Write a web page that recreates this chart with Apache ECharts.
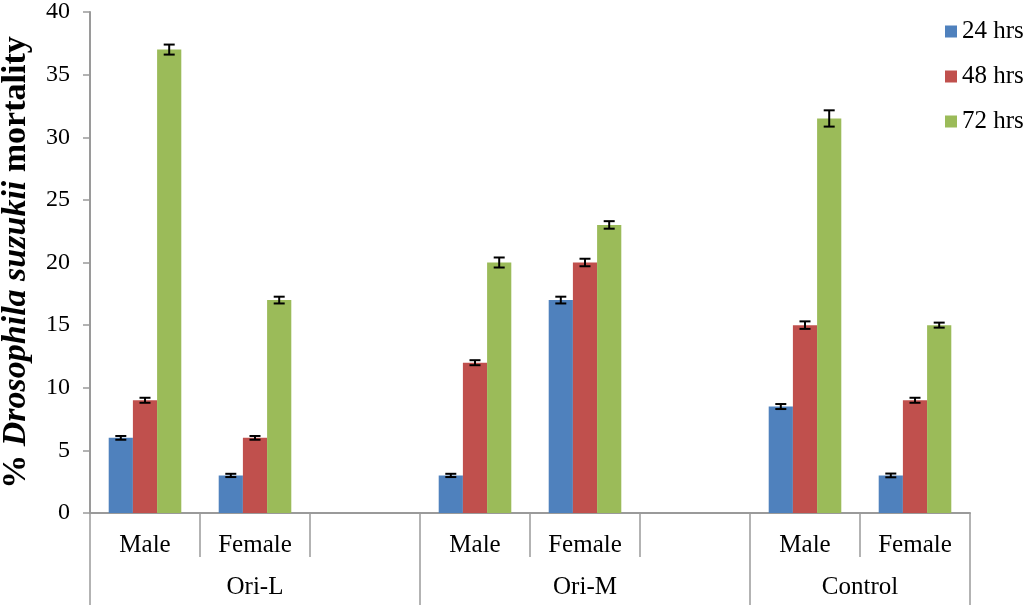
<!DOCTYPE html>
<html>
<head>
<meta charset="utf-8">
<script src="https://cdn.jsdelivr.net/npm/echarts@6/dist/echarts.min.js"></script>
<style>html,body{margin:0;padding:0;background:#fff}#c{width:1024px;height:608px}</style>
</head>
<body>
<div id="c"></div>
<script>
var categories = ['Male', 'Female', '', 'Male', 'Female', '', 'Male', 'Female'];
var groups = ['Ori-L', 'Ori-M', 'Control'];
var groupSpans = [3, 3, 2];
var seriesNames = ['24 hrs', '48 hrs', '72 hrs'];
var v24 = [6, 3, null, 3, 17, null, 8.5, 3];
var v48 = [9, 6, null, 12, 20, null, 15, 9];
var v72 = [37, 17, null, 20, 23, null, 31.5, 15];
var e24 = [0.15, 0.13, null, 0.13, 0.27, null, 0.2, 0.15];
var e48 = [0.2, 0.15, null, 0.2, 0.3, null, 0.3, 0.2];
var e72 = [0.4, 0.27, null, 0.4, 0.3, null, 0.65, 0.2];
var yTicks = [0, 5, 10, 15, 20, 25, 30, 35, 40];

var colors = ['#4F81BD', '#C0504D', '#9BBB59'];
var values = [v24, v48, v72];
var errors = [e24, e48, e72];
var font = 'Liberation Serif';
var axisColor = '#9a9a9a';
var gapFrac = 0.34;

var bounds = [0], centres = [];
var acc = 0;
for (var g = 0; g < groupSpans.length; g++) {
  centres.push(acc + groupSpans[g] / 2);
  acc += groupSpans[g];
  bounds.push(acc);
}
var allBounds = [];
for (var b = 0; b <= categories.length; b++) allBounds.push(b);

var series = [];
for (var s = 0; s < 3; s++) {
  series.push({
    name: seriesNames[s], type: 'bar', xAxisIndex: 0,
    data: values[s], barGap: '0%', barCategoryGap: (gapFrac * 100) + '%',
    itemStyle: { color: colors[s] }, silent: true
  });
}
for (var s2 = 0; s2 < 3; s2++) {
  (function (si) {
    var d = [];
    for (var i = 0; i < categories.length; i++) {
      if (values[si][i] != null) d.push([i, values[si][i], errors[si][i]]);
    }
    series.push({
      type: 'custom', xAxisIndex: 0, silent: true, z: 10,
      data: d,
      renderItem: function (params, api) {
        var idx = api.value(0), val = api.value(1), err = api.value(2);
        var band = api.size([1, 0])[0];
        var bw = band * (1 - gapFrac) / 3;
        var c = api.coord([idx, val]);
        var x = c[0] + (si - 1) * bw;
        var top = api.coord([idx, val + err])[1];
        var bot = api.coord([idx, val - err])[1];
        var hw = 5.5;
        var st = { stroke: '#000', lineWidth: 2 };
        return { type: 'group', children: [
          { type: 'line', shape: { x1: x, y1: top, x2: x, y2: bot }, style: st },
          { type: 'line', shape: { x1: x - hw, y1: top, x2: x + hw, y2: top }, style: st },
          { type: 'line', shape: { x1: x - hw, y1: bot, x2: x + hw, y2: bot }, style: st }
        ]};
      }
    });
  })(s2);
}

var chart = echarts.init(document.getElementById('c'));
chart.setOption({
  animation: false,
  textStyle: { fontFamily: font },
  legend: {
    data: seriesNames, orient: 'vertical', left: 940, top: 14,
    itemWidth: 12, itemHeight: 12, itemGap: 20, icon: 'rect',
    textStyle: { fontFamily: font, fontSize: 25, color: '#000' }
  },
  grid: { left: 90, right: 54, top: 12, bottom: 95, outerBoundsMode: 'none', containLabel: false },
  xAxis: [{
    type: 'category', data: categories,
    axisLine: { lineStyle: { color: axisColor, width: 2 } },
    axisTick: { show: false },
    axisLabel: { interval: 0, margin: 20, fontFamily: font, fontSize: 25, color: '#000' }
  }, {
    type: 'value', min: 0, max: categories.length, position: 'bottom',
    axisLine: { show: false }, splitLine: { show: false },
    axisTick: { show: true, customValues: allBounds, length: 44, lineStyle: { color: axisColor, width: 1.5 } },
    axisLabel: { show: false }
  }, {
    type: 'value', min: 0, max: categories.length, position: 'bottom',
    axisLine: { show: false }, splitLine: { show: false },
    axisTick: { show: true, customValues: bounds, length: 92, lineStyle: { color: axisColor, width: 1.5 } },
    axisLabel: {
      customValues: centres, margin: 62, fontFamily: font, fontSize: 25, color: '#000',
      formatter: function (v) { var k = centres.indexOf(v); return k >= 0 ? groups[k] : ''; }
    }
  }],
  yAxis: {
    type: 'value', min: yTicks[0], max: yTicks[yTicks.length - 1], interval: yTicks[1] - yTicks[0],
    name: '{b|% }{bi|Drosophila suzukii}{b| mortality}',
    nameLocation: 'middle', nameGap: 57,
    nameTextStyle: { rich: {
      b: { fontFamily: font, fontSize: 34, fontWeight: 'bold', color: '#000' },
      bi: { fontFamily: font, fontSize: 34, fontWeight: 'bold', fontStyle: 'italic', color: '#000' }
    } },
    axisLine: { show: true, lineStyle: { color: axisColor, width: 2 } },
    axisTick: { show: true, length: 7, lineStyle: { color: axisColor, width: 1.5 } },
    splitLine: { show: false },
    axisLabel: { margin: 20, fontFamily: font, fontSize: 24, color: '#000' }
  },
  series: series
});
</script>
</body>
</html>
